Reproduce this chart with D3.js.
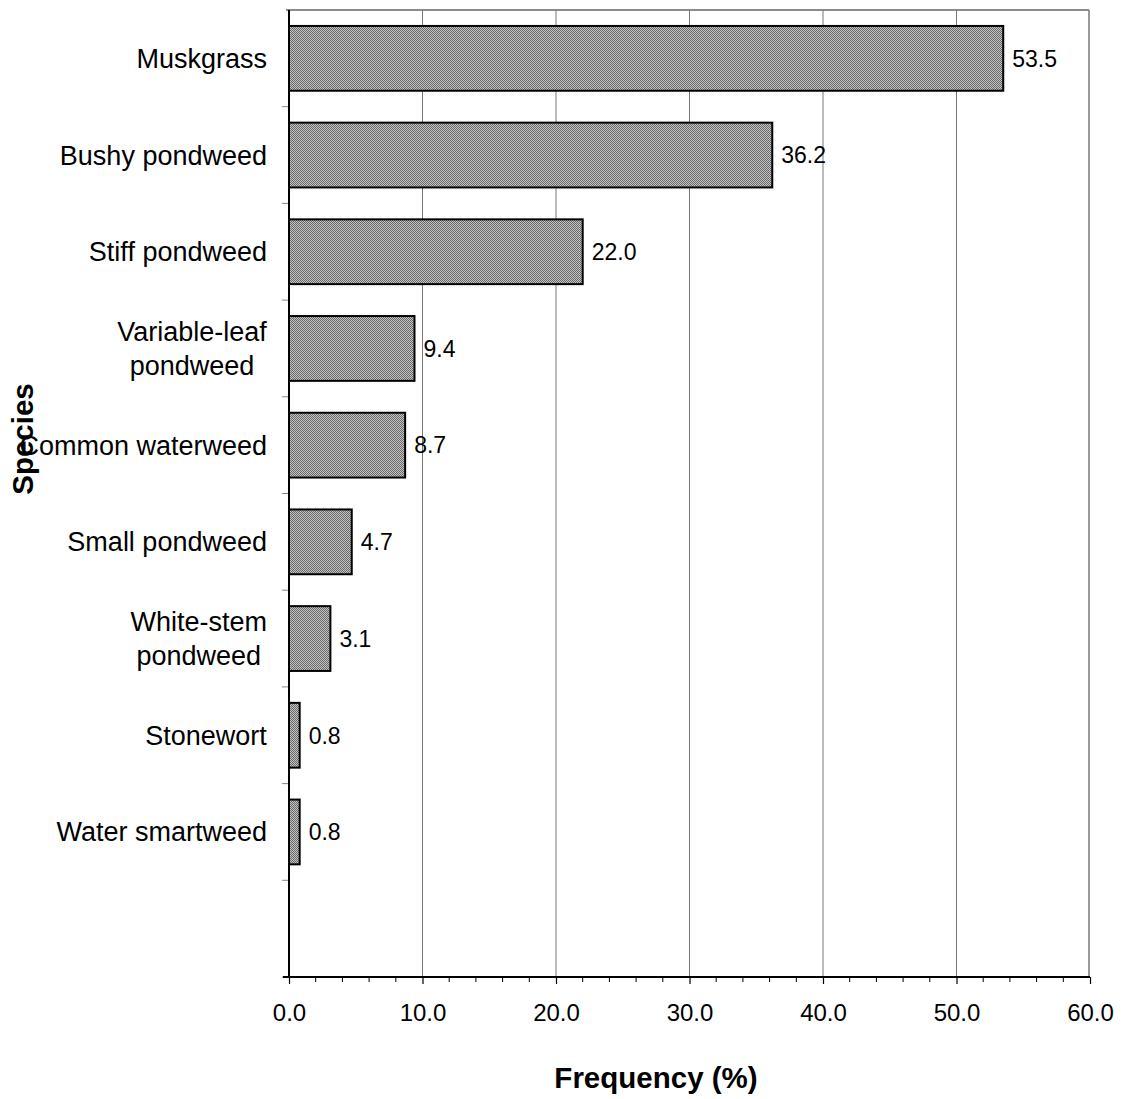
<!DOCTYPE html>
<html>
<head>
<meta charset="utf-8">
<script src="https://cdn.jsdelivr.net/npm/d3@7"></script>
<style>
  body { margin: 0; background: #fff; }
  svg { display: block; font-family: "Liberation Sans", Arial, sans-serif; }
</style>
</head>
<body>
<svg id="chart" width="1122" height="1099"></svg>
<script>
// ---- data ----
const categories = ["Muskgrass", "Bushy pondweed", "Stiff pondweed", "Variable-leaf\npondweed",
  "Common waterweed", "Small pondweed", "White-stem\npondweed", "Stonewort", "Water smartweed"];
const values = [53.5, 36.2, 22.0, 9.4, 8.7, 4.7, 3.1, 0.8, 0.8];
const xTicks = [0, 10, 20, 30, 40, 50, 60];
const xMinorTicks = [2, 4, 6, 8, 12, 14, 16, 18, 22, 24, 26, 28, 32, 34, 36, 38, 42, 44, 46, 48, 52, 54, 56, 58];
const xTitle = "Frequency (%)";
const yTitle = "Species";
const nSlots = 10; // one empty slot at the bottom

(function () {
// ---- layout ----
const pLeft = 289, pRight = 1090, pTop = 10, pBottom = 977;
const svg = d3.select("#chart");

const defs = svg.append("defs");
const pat = defs.append("pattern").attr("id", "stipple").attr("patternUnits", "userSpaceOnUse")
  .attr("width", 2).attr("height", 2);
pat.append("rect").attr("width", 2).attr("height", 2).attr("fill", "#c2c2c2");
pat.append("rect").attr("x", 0).attr("y", 0).attr("width", 1).attr("height", 1).attr("fill", "#6a6a6a");
pat.append("rect").attr("x", 1).attr("y", 1).attr("width", 1).attr("height", 1).attr("fill", "#6a6a6a");

const x = d3.scaleLinear().domain([0, 60]).range([pLeft, pRight]);
const y = d3.scaleBand().domain(d3.range(nSlots)).range([pTop, pBottom]).paddingInner(0.33).paddingOuter(0.165);
const yb = d3.scaleLinear().domain([0, nSlots]).range([pTop, pBottom]);

// frame (top, right)
svg.append("line").attr("x1", pLeft - 3).attr("x2", pRight - 1).attr("y1", pTop).attr("y2", pTop)
  .attr("stroke", "#666").attr("stroke-width", 1.5);
svg.append("line").attr("x1", pRight - 1).attr("x2", pRight - 1).attr("y1", pTop).attr("y2", pBottom)
  .attr("stroke", "#777").attr("stroke-width", 1.5);

// gridlines
svg.append("g").selectAll("line").data(xTicks.filter(t => t > 0 && t < 60)).join("line")
  .attr("x1", d => x(d)).attr("x2", d => x(d)).attr("y1", pTop).attr("y2", pBottom)
  .attr("stroke", "#777").attr("stroke-width", 1);

// y boundary ticks
svg.append("g").selectAll("line").data(d3.range(1, nSlots + 1)).join("line")
  .attr("x1", pLeft - 7).attr("x2", pLeft).attr("y1", d => yb(d)).attr("y2", d => yb(d))
  .attr("stroke", "#888").attr("stroke-width", 1);

// bars
svg.append("g").selectAll("rect").data(values).join("rect")
  .attr("x", x(0)).attr("y", (d, i) => y(i))
  .attr("width", d => x(d) - x(0)).attr("height", y.bandwidth())
  .attr("fill", "url(#stipple)").attr("stroke", "#000").attr("stroke-width", 2);

// value labels
svg.append("g").selectAll("text").data(values).join("text")
  .attr("x", d => x(d) + 9).attr("y", (d, i) => y(i) + y.bandwidth() / 2)
  .attr("dy", "0.36em").attr("font-size", 23).attr("fill", "#000")
  .text(d => d.toFixed(1));

// axes lines
svg.append("line").attr("x1", pLeft).attr("x2", pLeft).attr("y1", pTop).attr("y2", pBottom)
  .attr("stroke", "#000").attr("stroke-width", 2);
svg.append("line").attr("x1", pLeft - 6).attr("x2", pRight).attr("y1", pBottom).attr("y2", pBottom)
  .attr("stroke", "#000").attr("stroke-width", 2);

// x ticks
const xAxis = d3.axisBottom(x).tickValues(xTicks).tickFormat(d => d.toFixed(1)).tickSize(7).tickSizeOuter(0);
const gx = svg.append("g").attr("transform", `translate(0,${pBottom})`).call(xAxis);
gx.select(".domain").remove();
gx.selectAll(".tick line").attr("stroke", "#000").attr("stroke-width", 1.2);
gx.selectAll(".tick text").attr("font-size", 24).attr("font-family", "Liberation Sans, Arial, sans-serif")
  .attr("fill", "#000").attr("y", 27).attr("dy", "0.71em");
svg.append("g").selectAll("line").data(xMinorTicks).join("line")
  .attr("x1", d => x(d)).attr("x2", d => x(d)).attr("y1", pBottom).attr("y2", pBottom + 5)
  .attr("stroke", "#000").attr("stroke-width", 1);

// category labels
const catG = svg.append("g");
categories.forEach((c, i) => {
  const lines = c.split("\n");
  const cy = y(i) + y.bandwidth() / 2;
  const t = catG.append("text").attr("font-size", 27).attr("fill", "#000").attr("text-anchor", "middle");
  const lh = 34;
  lines.forEach((ln, k) => {
    t.append("tspan").attr("x", 0).attr("y", cy + (k - (lines.length - 1) / 2) * lh).attr("dy", "0.35em").text(ln);
  });
  const w = t.node().getBBox().width;
  t.selectAll("tspan").attr("x", 267 - w / 2);
});

// axis titles
svg.append("text").attr("x", 656).attr("y", 1088).attr("text-anchor", "middle")
  .attr("font-size", 29.5).attr("font-weight", "bold").text(xTitle);
svg.append("text").attr("transform", "translate(33,439) rotate(-90)").attr("text-anchor", "middle")
  .attr("font-size", 29.5).attr("font-weight", "bold").text(yTitle);
})();
</script>
</body>
</html>
